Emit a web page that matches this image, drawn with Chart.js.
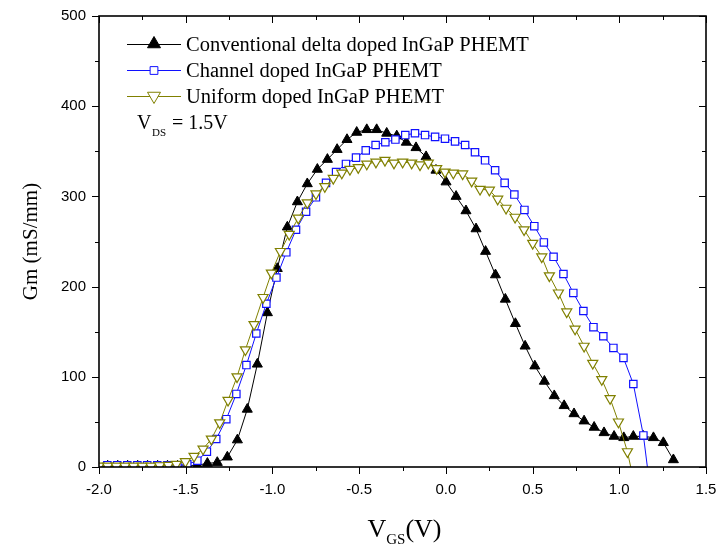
<!DOCTYPE html>
<html>
<head>
<meta charset="utf-8">
<script src="https://cdn.jsdelivr.net/npm/chart.js@4.4.1/dist/chart.umd.min.js"></script>
<style>
  body { margin: 0; background: #fff; }
  #wrap { width: 720px; height: 552px; position: relative; }
</style>
</head>
<body>
<div id="wrap"><canvas id="gmChart"></canvas></div>
<script>
// Gm vs VGS, VDS = 1.5V
const seriesNames = ['Conventional delta doped InGaP PHEMT', 'Channel doped InGaP PHEMT', 'Uniform doped InGaP PHEMT'];

const vgsDelta = [-1.95, -1.892, -1.835, -1.777, -1.72, -1.662, -1.605, -1.547, -1.49, -1.432,
    -1.375, -1.318, -1.26, -1.202, -1.145, -1.087, -1.029, -0.972, -0.914, -0.856,
    -0.799, -0.741, -0.683, -0.627, -0.570, -0.514, -0.456, -0.399, -0.341, -0.283,
    -0.228, -0.172, -0.114, -0.057, 0.001, 0.059, 0.116, 0.174, 0.229, 0.286,
    0.343, 0.401, 0.457, 0.513, 0.568, 0.625, 0.682, 0.739, 0.797, 0.855,
    0.912, 0.970, 1.026, 1.081, 1.139, 1.197, 1.254, 1.312];
const gmDelta = [1, 1, 1, 1, 1, 1, 1, 1, 1.5, 2,
    4, 5, 11, 30, 64, 114, 171, 220, 266, 294,
    314, 330, 341, 352, 363, 371, 374, 374, 370, 367,
    360, 354, 344, 329, 316, 300, 284, 264, 239, 213,
    186, 159, 134, 112, 95, 79, 68, 59, 51, 44,
    38, 34, 32.5, 34, 34, 32.5, 27, 8];

const vgsChannel = [-1.952, -1.895, -1.837, -1.779, -1.722, -1.664, -1.606, -1.548, -1.491, -1.433,
    -1.378, -1.324, -1.266, -1.208, -1.150, -1.093, -1.035, -0.977, -0.920, -0.864,
    -0.806, -0.749, -0.691, -0.633, -0.576, -0.518, -0.462, -0.405, -0.349, -0.291,
    -0.234, -0.178, -0.120, -0.062, -0.005, 0.053, 0.111, 0.168, 0.226, 0.284,
    0.339, 0.395, 0.453, 0.510, 0.565, 0.621, 0.678, 0.735, 0.793, 0.851,
    0.908, 0.966, 1.024, 1.081, 1.139, 1.162];
const gmChannel = [2, 2, 2, 2, 2, 2, 2, 2, 3, 7,
    17, 31, 53, 81, 113, 148, 181, 210, 238, 263,
    283, 299, 315, 327, 336, 343, 351, 357, 360, 363,
    368, 370, 368, 366, 364, 361, 357, 349, 340, 329,
    315, 302, 285, 267, 249, 233, 214, 193, 173, 155,
    145, 132, 121, 92, 35, 0];

const vgsUniform = [-2.0, -1.95, -1.9, -1.85, -1.8, -1.75, -1.7, -1.65, -1.6, -1.554,
    -1.502, -1.452, -1.4, -1.352, -1.304, -1.256, -1.204, -1.156, -1.106, -1.054,
    -1.006, -0.954, -0.903, -0.851, -0.799, -0.749, -0.698, -0.649, -0.6, -0.553,
    -0.505, -0.456, -0.403, -0.351, -0.299, -0.249, -0.197, -0.149, -0.101, -0.053,
    -0.005, 0.043, 0.097, 0.149, 0.197, 0.251, 0.299, 0.347, 0.399, 0.451,
    0.501, 0.553, 0.597, 0.649, 0.697, 0.745, 0.797, 0.847, 0.899, 0.947,
    0.995, 1.047, 1.066];
const gmUniform = [1, 1, 1, 1, 1, 1, 1, 1.5, 2, 3,
    6, 12, 20, 31, 49, 74, 100, 130, 158, 188,
    215, 239, 258, 276, 293, 303, 311, 320, 326, 330,
    332, 336, 338, 340, 337, 338, 337, 335, 337, 331,
    327, 326, 325, 317, 308, 307, 297, 287, 277, 263,
    248, 233, 212, 193, 172, 153, 134, 115, 97, 76,
    50, 17, 0];

const xTicks = [-2.0, -1.5, -1.0, -0.5, 0.0, 0.5, 1.0, 1.5];
const yTicks = [0, 100, 200, 300, 400, 500];

const colors = ['#000000', '#1010ff', '#808000'];
const serif = '"Liberation Serif", "Times New Roman", serif';
const sans = '"Liberation Sans", Arial, sans-serif';

function pts(xs, ys) {
    return xs.map((v, i) => ({ x: v, y: ys[i] }));
}

// last point of a series marks where the curve meets the axis: no marker there
function radiusNoLast(r, n) {
    return c => (c.dataIndex === n - 1 ? 0 : r);
}

function drawMarker(ctx, kind, x, y, r, color) {
    ctx.beginPath();
    if (kind === 'square') {
        const s = r * Math.SQRT1_2;
        ctx.rect(x - s, y - s, 2 * s, 2 * s);
        ctx.fillStyle = '#fff';
    } else {
        const d = kind === 'up' ? 1 : -1;
        ctx.moveTo(x, y - d * r);
        ctx.lineTo(x + 0.866 * r, y + d * 0.5 * r);
        ctx.lineTo(x - 0.866 * r, y + d * 0.5 * r);
        ctx.closePath();
        ctx.fillStyle = kind === 'up' ? color : '#fff';
    }
    ctx.fill();
    ctx.strokeStyle = color;
    ctx.lineWidth = 1;
    ctx.stroke();
}

const decor = {
    id: 'decor',
    afterDatasetsDraw(chart) {
        const { ctx, chartArea: a, scales: { x, y } } = chart;
        ctx.save();
        ctx.strokeStyle = '#000';
        ctx.lineWidth = 1;
        // ticks: out on bottom/left, in on top/right
        for (let v = -2; v <= 1.5001; v += 0.25) {
            const px = Math.round(x.getPixelForValue(v)) + 0.5;
            const len = Math.abs(v * 2 - Math.round(v * 2)) < 1e-6 ? 7 : 4;
            ctx.beginPath();
            ctx.moveTo(px, a.bottom); ctx.lineTo(px, a.bottom + len);
            ctx.moveTo(px, a.top); ctx.lineTo(px, a.top + len);
            ctx.stroke();
        }
        for (let v = 0; v <= 500; v += 50) {
            const py = Math.round(y.getPixelForValue(v)) + 0.5;
            const len = v % 100 === 0 ? 7 : 4;
            ctx.beginPath();
            ctx.moveTo(a.left, py); ctx.lineTo(a.left - len, py);
            ctx.moveTo(a.right, py); ctx.lineTo(a.right - len, py);
            ctx.stroke();
        }
        ctx.lineWidth = 1.6;
        ctx.strokeRect(a.left, a.top, a.right - a.left, a.bottom - a.top);

        // legend
        const kinds = ['up', 'square', 'down'];
        const rowY = [44, 70, 96];
        seriesNames.forEach((name, i) => {
            ctx.strokeStyle = colors[i];
            ctx.lineWidth = 1;
            ctx.beginPath();
            ctx.moveTo(127, rowY[i] + 0.5);
            ctx.lineTo(181, rowY[i] + 0.5);
            ctx.stroke();
            drawMarker(ctx, kinds[i], 154, rowY[i] + (i === 1 ? 0.5 : 0), i === 1 ? 5.5 : 7.5, colors[i]);
            ctx.fillStyle = '#000';
            ctx.font = '20.5px ' + serif;
            ctx.textAlign = 'left';
            ctx.textBaseline = 'alphabetic';
            ctx.fillText(name, 186, rowY[i] + 7);
        });

        // VDS note
        ctx.fillStyle = '#000';
        ctx.font = '20px ' + serif;
        ctx.fillText('V', 137, 129);
        ctx.font = '11px ' + serif;
        ctx.fillText('DS', 152, 136);
        ctx.font = '20px ' + serif;
        ctx.fillText('= 1.5V', 172, 129);

        // y title
        ctx.save();
        ctx.translate(37, (a.top + a.bottom) / 2);
        ctx.rotate(-Math.PI / 2);
        ctx.font = '21px ' + serif;
        ctx.textAlign = 'center';
        ctx.fillText('Gm (mS/mm)', 0, 0);
        ctx.restore();

        // x title with subscript
        ctx.textAlign = 'left';
        ctx.font = '26px ' + serif;
        const wV = ctx.measureText('V').width;
        const wP = ctx.measureText('(V)').width;
        ctx.font = '15px ' + serif;
        const wS = ctx.measureText('GS').width;
        let tx = (a.left + a.right) / 2 + 2 - (wV + wS + wP) / 2;
        ctx.font = '26px ' + serif;
        ctx.fillText('V', tx, 537);
        ctx.font = '15px ' + serif;
        ctx.fillText('GS', tx + wV, 544);
        ctx.font = '26px ' + serif;
        ctx.fillText('(V)', tx + wV + wS, 537);
        ctx.restore();
    }
};

const ctx = document.getElementById('gmChart').getContext('2d');
const gmChart = new Chart(ctx, {
    type: 'line',
    data: {
        datasets: [{
            label: seriesNames[0],
            data: pts(vgsDelta, gmDelta),
            borderColor: colors[0],
            backgroundColor: colors[0],
            borderWidth: 1,
            pointStyle: 'triangle',
            pointRadius: 5.8,
            pointBackgroundColor: colors[0],
            pointBorderColor: colors[0],
            pointBorderWidth: 1,
            order: 3
        }, {
            label: seriesNames[1],
            data: pts(vgsChannel, gmChannel),
            borderColor: colors[1],
            borderWidth: 1,
            pointStyle: 'rect',
            pointRadius: radiusNoLast(5.2, vgsChannel.length),
            pointBackgroundColor: '#fff',
            pointBorderColor: colors[1],
            pointBorderWidth: 1.2,
            order: 2
        }, {
            label: seriesNames[2],
            data: pts(vgsUniform, gmUniform),
            borderColor: colors[2],
            borderWidth: 1,
            pointStyle: 'triangle',
            pointRotation: 180,
            pointRadius: radiusNoLast(5.8, vgsUniform.length),
            pointBackgroundColor: '#fff',
            pointBorderColor: colors[2],
            pointBorderWidth: 1.2,
            order: 1
        }]
    },
    options: {
        responsive: true,
        maintainAspectRatio: false,
        animation: false,
        layout: { padding: { left: 0, right: 14, top: 16, bottom: 0 } },
        plugins: {
            legend: { display: false },
            tooltip: { enabled: false }
        },
        scales: {
            x: {
                type: 'linear',
                min: -2,
                max: 1.5,
                afterBuildTicks: s => { s.ticks = xTicks.map(v => ({ value: v })); },
                afterFit: s => { s.height = 85; s.paddingLeft = 0; s.paddingRight = 0; },
                grid: { display: false, drawTicks: false },
                border: { display: false },
                ticks: {
                    color: '#000',
                    font: { family: sans, size: 15 },
                    padding: 14,
                    maxRotation: 0,
                    callback: v => v.toFixed(1)
                }
            },
            y: {
                min: 0,
                max: 500,
                afterBuildTicks: s => { s.ticks = yTicks.map(v => ({ value: v })); },
                afterFit: s => { s.width = 99; s.paddingTop = 0; s.paddingBottom = 0; },
                grid: { display: false, drawTicks: false },
                border: { display: false },
                ticks: {
                    color: '#000',
                    font: { family: sans, size: 15 },
                    padding: 13
                }
            }
        }
    },
    plugins: [decor]
});
</script>
</body>
</html>
